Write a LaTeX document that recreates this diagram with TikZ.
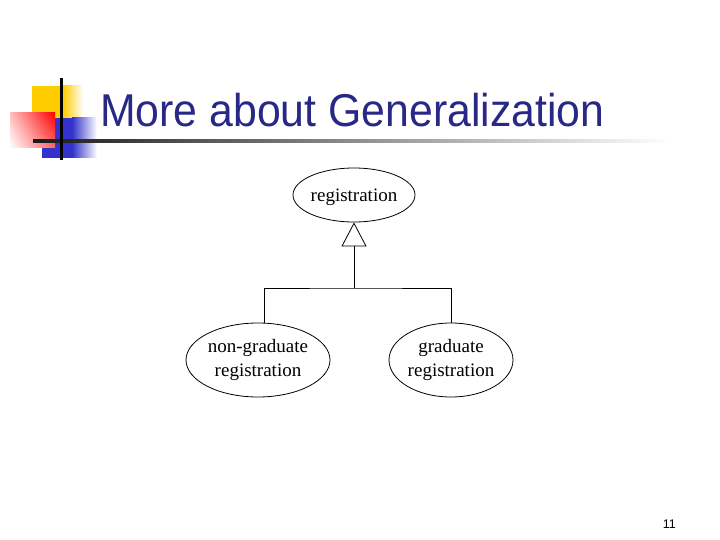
\documentclass[tikz,border=0pt]{standalone}
\usepackage{fontspec}
\setmainfont{Liberation Serif}
\newfontfamily\titlefont[FakeStretch=0.93]{Liberation Sans}
\newfontfamily\numfont{Liberation Sans}
\usetikzlibrary{shapes.geometric,arrows.meta,shadings}
\definecolor{titleblue}{RGB}{40,40,135}
\definecolor{logoyellow}{RGB}{255,204,0}
\definecolor{logored}{RGB}{255,0,0}
\definecolor{logoblue}{RGB}{51,51,204}
\tikzset{
	class/.style={draw,ellipse,line width=0.8pt,inner xsep=-8pt,inner ysep=-6pt,align=center,font=\fontsize{19}{24}\selectfont},
	link/.style={line width=0.8pt},
}

\begin{document}
\begin{tikzpicture}[x=1pt,y=-1pt]
			\useasboundingbox[fill=white] (0,0) rectangle (720,540);
			\fill[logoyellow] (32,86) rectangle (63,118);
			\shade[left color=logoyellow,right color=white] (63,86) rectangle (83,118);
			\fill[logoblue] (42,118) rectangle (72,158);
			\shade[left color=logoblue,right color=white] (72,118) rectangle (97,158);
			\shade[upper right=logored,upper left=logored!25,lower right=logored!60,lower left=white] (10,113) rectangle (55,148);
			\shade[left color=black!90,right color=white] (33,140) rectangle (670,143);
			\draw[line width=3pt] (61,78) -- (61,160);
			\node[anchor=base west,inner sep=0pt,font=\titlefont\fontsize{46}{50}\selectfont,text=titleblue] (title) at (100,127) {More about Generalization};
			\node[class,text depth=0pt,minimum width=122pt,minimum height=54pt] (reg) at (354,195) {registration};
			\node[class,minimum width=144pt,minimum height=74pt] (nongrad) at (258,360) {non-graduate\\registration};
			\node[class,minimum width=124pt,minimum height=74pt] (grad) at (451,360) {graduate\\registration};
			\coordinate (join) at (354,288);
			\draw[link] ([xshift=6pt]nongrad.north) |- (join) -| (grad.north);
			\draw[link,-{Triangle[open,length=24pt,width=25pt]}] (join) -- (reg.south);
			\node[anchor=base east,inner sep=0pt,font=\numfont\fontsize{12.5}{14}\selectfont] (page) at (676,528) {11};
\end{tikzpicture}
\end{document}
